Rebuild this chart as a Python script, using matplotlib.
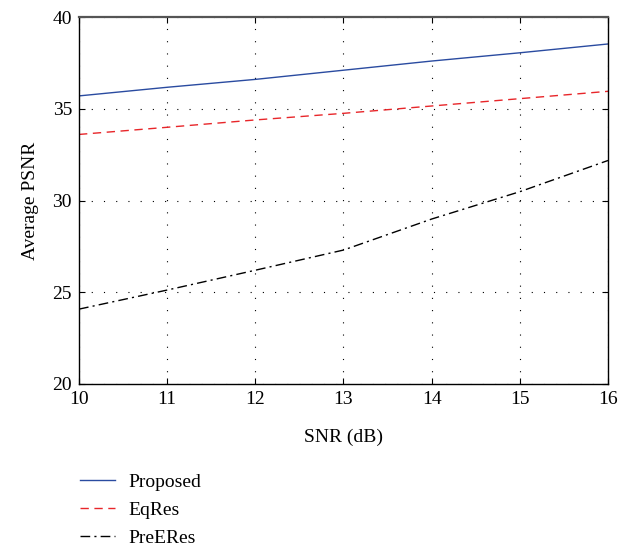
import matplotlib
matplotlib.use("Agg")
import matplotlib.pyplot as plt

snr = [10, 11, 12, 13, 14, 15, 16]
proposed = [35.7, 36.17, 36.6, 37.1, 37.6, 38.05, 38.53]
eqres = [33.6, 33.99, 34.39, 34.75, 35.15, 35.55, 35.95]
preeres = [24.08, 25.12, 26.2, 27.3, 28.99, 30.48, 32.18]
xticks = [10, 11, 12, 13, 14, 15, 16]
yticks = [20, 25, 30, 35, 40]

plt.rcParams['font.family'] = ['Liberation Serif', 'DejaVu Serif']
plt.rcParams['font.size'] = 14

fig = plt.figure(figsize=(6.34, 5.48), dpi=100)
ax = fig.add_axes([79/634, 1-384/548, (608-79)/634, (384-17)/548])

l1, = ax.plot(snr, proposed, color='#2a4ba0', lw=1.0, ls='-', label='Proposed')
l2, = ax.plot(snr, eqres, color='#e8262a', lw=1.0, ls=(0, (6, 4)), label='EqRes')
l3, = ax.plot(snr, preeres, color='black', lw=1.0, ls=(0, (7, 3, 1.5, 3)), label='PreERes')

ax.set_xlim(10, 16)
ax.set_ylim(20, 40)
ax.set_xticks(xticks)
ax.set_yticks(yticks)
ax.grid(True, color='black', ls=(0, (1, 10)), lw=0.8)
ax.tick_params(direction='in', top=True, right=True, length=4, width=0.8, pad=5)
for s in ax.spines.values():
    s.set_linewidth(1.0)
ax.spines['top'].set_color('#555555')
ax.spines['top'].set_linewidth(1.6)

ax.set_xlabel('SNR (dB)', labelpad=15)
ax.set_ylabel('Average PSNR', labelpad=10)

fig.legend(handles=[l1, l2, l3], loc='upper left',
           bbox_to_anchor=(62/634, 1-456/548), frameon=False,
           handlelength=1.8, handletextpad=0.7, labelspacing=0.52)

fig.savefig('out.png', dpi=100)
